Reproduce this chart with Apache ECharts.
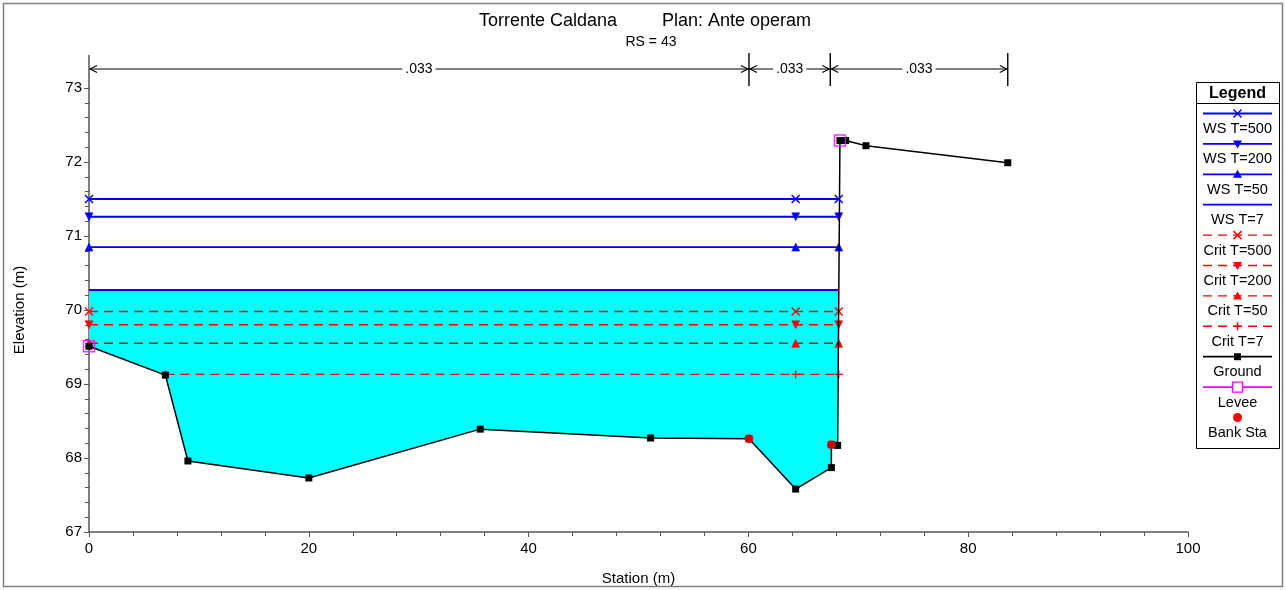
<!DOCTYPE html>
<html><head><meta charset="utf-8">
<script src="https://cdn.jsdelivr.net/npm/echarts@6/dist/echarts.min.js"></script>
<style>html,body{margin:0;padding:0;background:#fff}#c{width:1286px;height:590px}</style>
</head><body><div id="c"></div>
<script>
// ---------- data ----------
const groundX = [0, 6.95, 9.0, 20.0, 35.6, 51.1, 60.05, 64.3, 67.55, 67.55, 68.12, 68.33, 68.85, 70.7, 83.6];
const groundY = [69.51, 69.12, 67.96, 67.73, 68.39, 68.27, 68.26, 67.58, 67.87, 68.18, 68.17, 72.29, 72.29, 72.22, 71.99];
const leveeX = [0, 68.33];
const leveeY = [69.51, 72.29];
const bankX = [60.05, 67.55];
const bankY = [68.26, 68.18];

const wsNames = ['WS T=500', 'WS T=200', 'WS T=50', 'WS T=7'];
const wsLevels = [71.50, 71.26, 70.85, 70.27];
const wsX = [0, 64.3, 68.22];

const critNames = ['Crit T=500', 'Crit T=200', 'Crit T=50', 'Crit T=7'];
const critLevels = [69.98, 69.80, 69.55, 69.13];
const critX = [0, 64.3, 68.22];
const critT7X = [6.95, 64.3, 68.22];

const nStations = [0, 60.05, 67.45, 83.6];
const nLabels = ['.033', '.033', '.033'];

const xTickLabels = ['0', '20', '40', '60', '80', '100'];
const yTickLabels = ['67', '68', '69', '70', '71', '72', '73'];

// ---------- styling ----------
const FONT = "'Liberation Sans', Arial, sans-serif";
const BLUE = '#0000FF', RED = '#FF0000';
const X_PATH = 'path://M0,0L10,10M10,0L0,10';
const PLUS_PATH = 'path://M5,0L5,10M0,5L10,5';
const wsMarks = ['x', 'down', 'up', 'none'];
const critMarks = ['x', 'down', 'up', 'plus'];

function symOf(m) {
  if (m === 'x') return { symbol: X_PATH, symbolSize: 8, symbolRotate: 0 };
  if (m === 'plus') return { symbol: PLUS_PATH, symbolSize: 8, symbolRotate: 0 };
  if (m === 'down') return { symbol: 'triangle', symbolSize: 8, symbolRotate: 180 };
  if (m === 'up') return { symbol: 'triangle', symbolSize: 8, symbolRotate: 0 };
  return { symbol: 'none', symbolSize: 0, symbolRotate: 0 };
}

// water polygon (WS T=7) clipped against the ground line
function waterPolygon(level) {
  const pts = [[0, level]];
  for (let i = 0; i < groundX.length; i++) {
    const x = groundX[i], y = groundY[i];
    if (y <= level) { pts.push([x, y]); }
    else {
      if (i === 0) continue;
      const x0 = groundX[i - 1], y0 = groundY[i - 1];
      const t = (level - y0) / (y - y0);
      pts.push([x0 + t * (x - x0), level]);
      break;
    }
  }
  return pts;
}

const series = [];
series.push({
  type: 'custom', name: 'fill', z: 1, silent: true,
  data: [[0, wsLevels[3]]],
  renderItem: function (params, api) {
    const pts = waterPolygon(wsLevels[3]).map(p => api.coord(p));
    return { type: 'polygon', shape: { points: pts }, style: { fill: '#00FFFF' } };
  }
});

wsNames.forEach((n, i) => {
  const s = symOf(wsMarks[i]);
  series.push({
    type: 'line', name: n, z: 3, silent: true,
    data: wsX.map(x => [x, wsLevels[i]]),
    symbol: s.symbol, symbolSize: s.symbolSize, symbolRotate: s.symbolRotate,
    showSymbol: wsMarks[i] !== 'none',
    lineStyle: { color: BLUE, width: 1.8 },
    itemStyle: { color: BLUE, borderColor: BLUE, borderWidth: wsMarks[i] === 'x' ? 1.5 : 0.5 }
  });
});
critNames.forEach((n, i) => {
  const s = symOf(critMarks[i]);
  const xs = i === 3 ? critT7X : critX;
  series.push({
    type: 'line', name: n, z: 3, silent: true,
    data: xs.map(x => [x, critLevels[i]]),
    symbol: s.symbol, symbolSize: s.symbolSize, symbolRotate: s.symbolRotate,
    lineStyle: { color: RED, width: 1.4, type: [9, 6] },
    itemStyle: { color: RED, borderColor: RED, borderWidth: (critMarks[i] === 'x' || critMarks[i] === 'plus') ? 1.4 : 0.5 }
  });
});
series.push({
  type: 'line', name: 'Ground', z: 4, silent: true,
  data: groundX.map((x, i) => [x, groundY[i]]),
  symbol: 'rect', symbolSize: 7,
  lineStyle: { color: '#000', width: 1.5 },
  itemStyle: { color: '#000' }
});
series.push({
  type: 'scatter', name: 'Levee', z: 5, silent: true,
  data: leveeX.map((x, i) => [x, leveeY[i]]),
  symbol: 'rect', symbolSize: 11,
  itemStyle: { color: 'rgba(0,0,0,0)', borderColor: '#FF00FF', borderWidth: 1.5 }
});
series.push({
  type: 'scatter', name: 'Bank Sta', z: 6, silent: true,
  data: bankX.map((x, i) => [x, bankY[i]]),
  symbol: 'circle', symbolSize: 9,
  itemStyle: { color: RED }
});
// Manning's n annotation above the plot
series.push({
  type: 'custom', name: 'nvalues', z: 7, silent: true, clip: false,
  data: nStations.slice(0, -1).map((x, i) => [x, nStations[i + 1]]),
  encode: { x: [0, 1] },
  renderItem: function (params, api) {
    const x0 = api.coord([api.value(0), 67])[0];
    const x1 = api.coord([api.value(1), 67])[0];
    const y = 69;
    const ls = { stroke: '#000', lineWidth: 1.1, fill: null };
    const ch = [
      { type: 'line', shape: { x1: x0, y1: y, x2: x1, y2: y }, style: ls },
      { type: 'polyline', shape: { points: [[x0 + 8, y - 3.5], [x0 + 1, y], [x0 + 8, y + 3.5]] }, style: ls },
      { type: 'polyline', shape: { points: [[x1 - 8, y - 3.5], [x1 - 1, y], [x1 - 8, y + 3.5]] }, style: ls },
      { type: 'line', shape: { x1: x1, y1: 53, x2: x1, y2: 86 }, style: { stroke: '#000', lineWidth: 1.4 } },
      { type: 'text', style: { text: nLabels[params.dataIndex], x: (x0 + x1) / 2, y: y, align: 'center', verticalAlign: 'middle',
        font: '14px ' + FONT, fill: '#000', backgroundColor: '#fff', padding: [1, 3] } }
    ];
    if (params.dataIndex === 0) {
      ch.push({ type: 'line', shape: { x1: x0, y1: 55, x2: x0, y2: 88 }, style: { stroke: '#555', lineWidth: 1.5 } });
    }
    return { type: 'group', children: ch };
  }
});

// ---------- legend (drawn as graphics) ----------
const legendItems = [
  ['WS T=500', BLUE, false, 'x'], ['WS T=200', BLUE, false, 'down'], ['WS T=50', BLUE, false, 'up'], ['WS T=7', BLUE, false, 'none'],
  ['Crit T=500', RED, true, 'x'], ['Crit T=200', RED, true, 'down'], ['Crit T=50', RED, true, 'up'], ['Crit T=7', RED, true, 'plus'],
  ['Ground', '#000', false, 'square'], ['Levee', '#FF00FF', false, 'hollow'], ['Bank Sta', RED, null, 'circle']
];
const LX = 1196, LY = 82, LW = 83, LH = 366;
const lg = [
  { type: 'rect', shape: { x: LX + 0.5, y: LY + 0.5, width: LW, height: LH }, style: { fill: '#fff', stroke: '#000', lineWidth: 1 } },
  { type: 'line', shape: { x1: LX, y1: 103.5, x2: LX + LW, y2: 103.5 }, style: { stroke: '#000', lineWidth: 1 } },
  { type: 'text', style: { text: 'Legend', x: LX + LW / 2, y: 94, align: 'center', verticalAlign: 'middle', font: 'bold 16px ' + FONT, fill: '#000' } }
];
const cx = LX + LW / 2;
legendItems.forEach((it, i) => {
  const y = 113.5 + 30.4 * i;
  const [name, col, dashed, mk] = it;
  if (dashed !== null) {
    lg.push({ type: 'line', shape: { x1: 1203, y1: y, x2: 1272, y2: y }, style: { stroke: col, lineWidth: dashed ? 1.4 : 1.8, lineDash: dashed ? [9, 6] : null } });
  }
  const st = { stroke: col, lineWidth: 1.5, fill: null };
  if (mk === 'x') {
    lg.push({ type: 'line', shape: { x1: cx - 4, y1: y - 4, x2: cx + 4, y2: y + 4 }, style: st });
    lg.push({ type: 'line', shape: { x1: cx - 4, y1: y + 4, x2: cx + 4, y2: y - 4 }, style: st });
  } else if (mk === 'plus') {
    lg.push({ type: 'line', shape: { x1: cx - 4, y1: y, x2: cx + 4, y2: y }, style: st });
    lg.push({ type: 'line', shape: { x1: cx, y1: y - 4, x2: cx, y2: y + 4 }, style: st });
  } else if (mk === 'down') {
    lg.push({ type: 'polygon', shape: { points: [[cx - 4.5, y - 3.5], [cx + 4.5, y - 3.5], [cx, y + 4.5]] }, style: { fill: col } });
  } else if (mk === 'up') {
    lg.push({ type: 'polygon', shape: { points: [[cx - 4.5, y + 3.5], [cx + 4.5, y + 3.5], [cx, y - 4.5]] }, style: { fill: col } });
  } else if (mk === 'square') {
    lg.push({ type: 'rect', shape: { x: cx - 3.5, y: y - 3.5, width: 7, height: 7 }, style: { fill: col } });
  } else if (mk === 'hollow') {
    lg.push({ type: 'rect', shape: { x: cx - 5, y: y - 5, width: 10, height: 10 }, style: { fill: '#fff', stroke: col, lineWidth: 1.3 } });
  } else if (mk === 'circle') {
    lg.push({ type: 'circle', shape: { cx: cx, cy: y, r: 4.5 }, style: { fill: col } });
  }
  lg.push({ type: 'text', style: { text: name, x: cx, y: y + 15.5, align: 'center', verticalAlign: 'middle', font: '14.5px ' + FONT, fill: '#000' } });
});

const graphics = [
  { type: 'rect', silent: true, z: -1, shape: { x: 3.5, y: 3.5, width: 1279, height: 583 }, style: { fill: null, stroke: '#808080', lineWidth: 1.5 } },
  { type: 'text', style: { text: 'Torrente Caldana', x: 479, y: 21, verticalAlign: 'middle', font: '18px ' + FONT, fill: '#000' } },
  { type: 'text', style: { text: 'Plan: Ante operam', x: 662, y: 21, verticalAlign: 'middle', font: '18px ' + FONT, fill: '#000' } },
  { type: 'text', style: { text: 'RS = 43', x: 651, y: 42, align: 'center', verticalAlign: 'middle', font: '14px ' + FONT, fill: '#000' } },
  { type: 'group', children: lg }
];

const chart = echarts.init(document.getElementById('c'), null, { renderer: 'canvas' });
chart.setOption({
  animation: false,
  backgroundColor: '#fff',
  grid: { left: 89, right: 98, top: 88, bottom: 58, containLabel: false, outerBoundsMode: 'none' },
  xAxis: {
    type: 'value', min: 0, max: 100, interval: 20,
    name: 'Station (m)', nameLocation: 'middle', nameGap: 39,
    nameTextStyle: { fontFamily: FONT, fontSize: 15, color: '#000' },
    axisLine: { lineStyle: { color: '#555', width: 1.5 } },
    axisTick: { show: true, length: 5, lineStyle: { color: '#555' } },
    minorTick: { show: true, splitNumber: 5, length: 4, lineStyle: { color: '#555' } },
    splitLine: { show: false },
    axisLabel: { fontFamily: FONT, fontSize: 15, color: '#000', margin: 9,
      formatter: v => { const k = Math.round(v / 20); return (Math.abs(v - k * 20) < 1e-6) ? xTickLabels[k] : ''; } }
  },
  yAxis: {
    type: 'value', min: 67, max: 73, interval: 1,
    name: 'Elevation (m)', nameLocation: 'middle', nameGap: 62, nameRotate: 90,
    nameTextStyle: { fontFamily: FONT, fontSize: 15, color: '#000' },
    axisLine: { show: true, lineStyle: { color: '#555', width: 1.5 } },
    axisTick: { show: true, length: 5, lineStyle: { color: '#555' } },
    minorTick: { show: true, splitNumber: 5, length: 4, lineStyle: { color: '#555' } },
    splitLine: { show: false },
    axisLabel: { fontFamily: FONT, fontSize: 15, color: '#000', margin: 7,
      formatter: v => { const k = Math.round(v - 67); return (Math.abs(v - 67 - k) < 1e-6) ? yTickLabels[k] : ''; } }
  },
  series: series,
  graphic: graphics
});
</script>
</body></html>
